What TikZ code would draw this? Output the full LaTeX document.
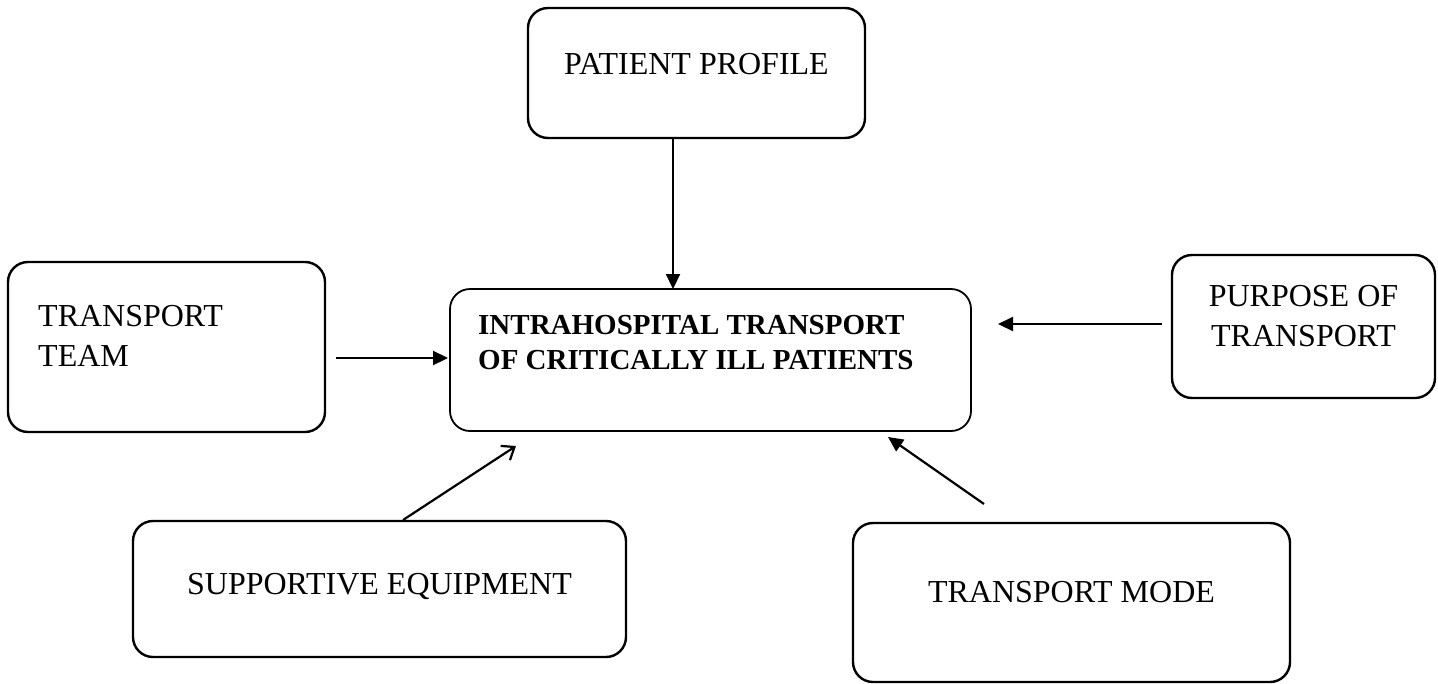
\documentclass[tikz,border=0pt]{standalone}
\usepackage{fontspec}
\setmainfont{Liberation Serif}
\usetikzlibrary{arrows.meta}
\begin{document}
\begin{tikzpicture}[x=1pt,y=-1pt,
  box/.style={draw, line width=2.4pt, rounded corners=20pt, inner sep=0pt, outer sep=0pt},
  txt/.style={font=\fontsize{32}{40}\selectfont, inner sep=0pt, anchor=base},
  btxt/.style={font=\fontsize{29}{35}\selectfont\bfseries, inner sep=0pt, anchor=base west, align=left},
  arr/.style={line width=2.2pt, -{Triangle[length=15pt,width=14pt]}},
  openarr/.style={line width=2.2pt, -{Straight Barb[length=11pt,width=17pt,line width=2.2pt]}}]
\fill[white] (0,0) rectangle (1438,683);
\useasboundingbox (0,0) rectangle (1438,683);
% boxes
\node[box, minimum width=337pt, minimum height=130pt] (pp) at (696.5,73) {};
\node[box, minimum width=317pt, minimum height=170pt] (team) at (166.5,347) {};
\node[box, line width=1.8pt, minimum width=521pt, minimum height=142pt] (central) at (710.5,360) {};
\node[box, minimum width=263pt, minimum height=143pt] (purpose) at (1303.5,326.5) {};
\node[box, minimum width=493pt, minimum height=136pt] (supp) at (379.5,589) {};
\node[box, minimum width=437pt, minimum height=159pt] (mode) at (1071.5,602.5) {};
% texts (multi-line nodes: base = last line)
\node[txt] (tpp) at (696.5,74) {PATIENT PROFILE};
\node[txt, anchor=base west, align=left] (tteam) at (38,366) {TRANSPORT\\TEAM};
\node[btxt] (tcentral) at (478,369) {INTRAHOSPITAL TRANSPORT\\OF CRITICALLY ILL PATIENTS};
\node[txt, align=center] (tpurpose) at (1303.5,346) {PURPOSE OF\\TRANSPORT};
\node[txt] (tsupp) at (379.5,594) {SUPPORTIVE EQUIPMENT};
\node[txt] (tmode) at (1071.5,602) {TRANSPORT MODE};
% connectors
\draw[arr] ([xshift=-23.5pt]pp.south) -- ([xshift=-23.5pt]pp.south |- central.north);
\draw[arr] ([shift={(11,11)}]team.east) -- ([shift={(-2,-2)}]central.west);
\draw[arr] ([shift={(-10,-2.5)}]purpose.west) -- ([shift={(27,-36)}]central.east);
\draw[openarr] ([shift={(23.5,-1)}]supp.north) -- ([shift={(-194.5,15)}]central.south);
\draw[arr] ([shift={(-87.5,-19)}]mode.north) -- ([shift={(177.5,6)}]central.south);
\end{tikzpicture}
\end{document}
